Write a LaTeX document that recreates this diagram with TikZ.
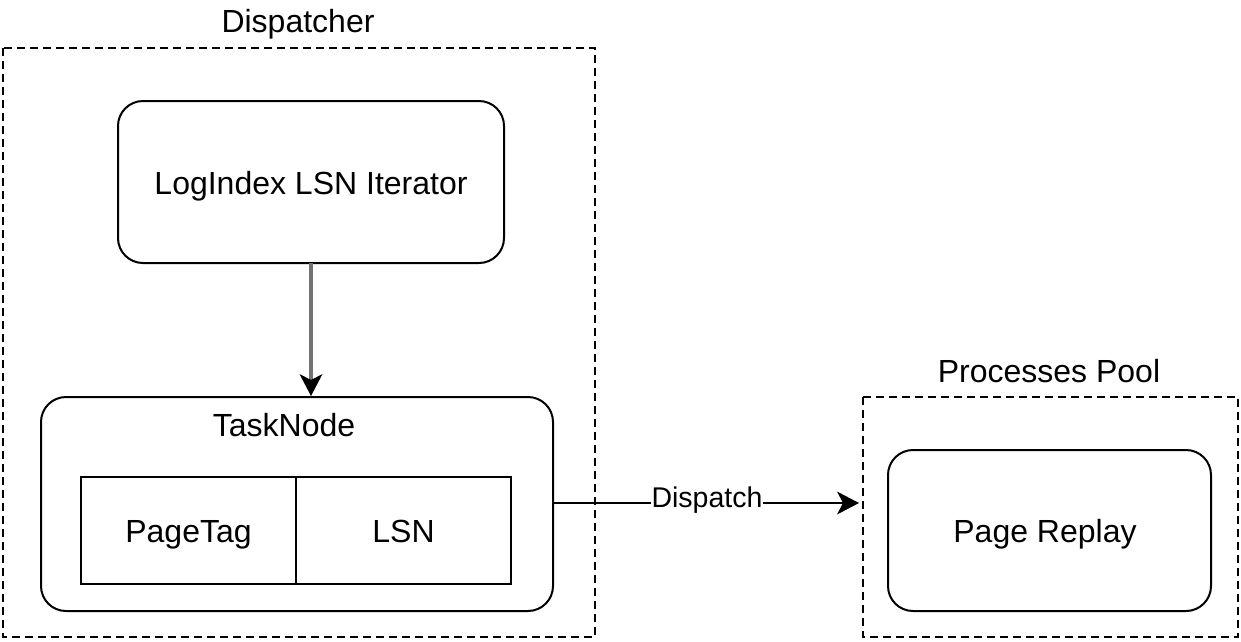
\documentclass[tikz,border=0pt]{standalone}
\usepackage{fontspec}
\setmainfont{Liberation Sans}
\usetikzlibrary{arrows.meta}
\begin{document}
\begin{tikzpicture}[x=1pt,y=-1pt,
  rbox/.style={draw=black,line width=2pt,rounded corners=25pt},
  sbox/.style={draw=black,line width=2pt},
  group/.style={draw=black,line width=1.8pt,dash pattern=on 8pt off 5pt},
  lbl/.style={font=\fontsize{32}{36}\selectfont,inner sep=0pt,anchor=base},
  conn/.style={line width=2pt,-{Stealth[length=22pt,width=23pt,inset=6pt,color=black,line width=0pt]}}]
\useasboundingbox[fill=white] (0,0) rectangle (1241,641);
% groups
\draw[group] (3,48) rectangle (595,637);
\node[lbl] (dispL) at (298,32) {Dispatcher};
\draw[group] (863,397) rectangle (1238,637);
\node[lbl] (poolL) at (1049,382) {Processes Pool};
% nodes
\draw[rbox] (118,101) rectangle (504,263);
\node[lbl] (iter) at (311,194.5) {LogIndex LSN Iterator};
\coordinate (iterB) at (311,263);
\draw[rbox] (41,397) rectangle (553,611);
\node[lbl] (task) at (284,436) {TaskNode};
\coordinate (taskT) at (311,396);
\coordinate (taskR) at (553,503);
\draw[sbox] (81,477) rectangle (296,584);
\node[lbl] (tag) at (188.5,542) {PageTag};
\draw[sbox] (296,477) rectangle (511,584);
\node[lbl] (lsn) at (403.5,542) {LSN};
\draw[rbox] (888,450) rectangle (1211,611);
\node[lbl] (replay) at (1045,542) {Page Replay};
\coordinate (poolL2) at (859,503);
% connectors
\draw[conn,draw=black!55,line width=3.5pt] (iterB) -- (taskT);
\draw[conn] (taskR) -- (poolL2);
\node[fill=white,inner sep=1pt,font=\fontsize{28.5}{32}\selectfont,anchor=base] (dl) at (707,507) {Dispatch};
\end{tikzpicture}
\end{document}
